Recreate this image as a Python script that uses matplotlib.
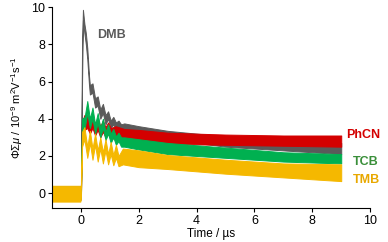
import matplotlib
matplotlib.use("Agg")
import matplotlib.pyplot as plt

plt.rcParams['font.family'] = ['Liberation Sans', 'DejaVu Sans']
plt.rcParams['mathtext.fontset'] = 'custom'
plt.rcParams['mathtext.rm'] = 'Liberation Sans'
plt.rcParams['mathtext.it'] = 'Liberation Sans:italic'

# envelope (low / high) of each noisy trace
t_dmb  = [-1.0, -0.02, 0.0, 0.04, 0.07, 0.12, 0.17, 0.22, 0.28, 0.31, 0.40, 0.49, 0.58, 0.67, 0.76, 0.85, 0.94, 1.03, 1.12, 1.21, 1.30, 1.39, 1.5, 2.0, 3.0, 5.0, 7.0, 9.0]
lo_dmb = [-0.35, -0.35, -0.2, 6.0, 9.3, 8.6, 8.0, 7.2, 5.8, 5.3, 5.4, 4.6, 4.7, 4.0, 4.3, 3.7, 4.0, 3.5, 3.7, 3.4, 3.5, 3.3, 3.3, 3.1, 2.9, 2.5, 2.3, 2.1]
hi_dmb = [0.35, 0.35, 0.3, 8.0, 9.85, 9.1, 8.6, 7.8, 6.3, 5.8, 5.9, 5.1, 5.2, 4.5, 4.8, 4.2, 4.4, 3.9, 4.1, 3.8, 3.9, 3.7, 3.75, 3.6, 3.35, 3.05, 2.85, 2.7]

t_phcn  = [-1.0, -0.02, 0.0, 0.04, 0.12, 0.22, 0.31, 0.40, 0.49, 0.58, 0.67, 0.76, 0.85, 0.94, 1.03, 1.2, 1.5, 2.0, 3.0, 5.0, 7.0, 9.0]
lo_phcn = [-0.35, -0.35, -0.2, 3.0, 3.4, 3.5, 3.2, 3.5, 3.1, 3.4, 3.0, 3.3, 3.0, 3.2, 2.95, 2.95, 2.8, 2.75, 2.65, 2.6, 2.55, 2.5]
hi_phcn = [0.35, 0.35, 0.3, 3.8, 4.2, 4.2, 3.8, 4.1, 3.7, 4.0, 3.6, 3.9, 3.55, 3.8, 3.5, 3.6, 3.45, 3.4, 3.25, 3.15, 3.1, 3.1]

t_tcb  = [-1.0, -0.02, 0.0, 0.04, 0.13, 0.22, 0.31, 0.40, 0.49, 0.58, 0.67, 0.76, 0.85, 0.94, 1.03, 1.12, 1.21, 1.30, 1.39, 1.5, 2.0, 3.0, 5.0, 7.0, 9.0]
lo_tcb = [-0.35, -0.35, -0.2, 3.3, 3.5, 4.3, 3.5, 4.0, 3.2, 3.8, 3.0, 3.5, 2.85, 3.2, 2.7, 3.0, 2.6, 2.8, 2.5, 2.5, 2.35, 2.1, 1.9, 1.7, 1.6]
hi_tcb = [0.35, 0.35, 0.3, 4.0, 4.1, 4.95, 4.0, 4.6, 3.7, 4.3, 3.5, 4.0, 3.3, 3.7, 3.2, 3.45, 3.05, 3.25, 3.0, 3.0, 2.9, 2.7, 2.45, 2.2, 2.1]

t_tmb  = [-1.0, -0.02, 0.0, 0.04, 0.12, 0.22, 0.31, 0.40, 0.49, 0.58, 0.67, 0.76, 0.85, 0.94, 1.03, 1.12, 1.21, 1.30, 1.45, 2.0, 3.0, 5.0, 7.0, 9.0]
lo_tmb = [-0.45, -0.45, -0.3, 2.5, 2.9, 1.9, 2.7, 1.8, 2.6, 1.7, 2.4, 1.6, 2.3, 1.55, 2.1, 1.5, 1.9, 1.45, 1.55, 1.4, 1.3, 1.05, 0.85, 0.65]
hi_tmb = [0.4, 0.4, 0.3, 3.3, 3.55, 2.5, 3.35, 2.4, 3.2, 2.3, 3.0, 2.2, 2.9, 2.1, 2.75, 2.05, 2.6, 2.0, 2.4, 2.3, 2.05, 1.8, 1.6, 1.55]

names = ['DMB', 'PhCN', 'TCB', 'TMB']
trace_colors = ['#5a5a5a', '#d40000', '#00b050', '#f5b800']
label_colors = ['#5a5a5a', '#d40000', '#3a8f3a', '#e8a800']
label_pos = [(1.07, 8.5), (9.76, 3.1), (9.86, 1.67), (9.86, 0.7)]

x_ticks = [0, 2, 4, 6, 8, 10]
y_ticks = [0, 2, 4, 6, 8, 10]

fig = plt.figure(figsize=(3.88, 2.42), dpi=100)
ax = fig.add_axes([0.134, 0.140, 0.820, 0.831])

traces = [(t_dmb, lo_dmb, hi_dmb), (t_phcn, lo_phcn, hi_phcn),
          (t_tcb, lo_tcb, hi_tcb), (t_tmb, lo_tmb, hi_tmb)]
for (t, lo, hi), c in zip(traces, trace_colors):
    ax.fill_between(t, lo, hi, color=c, linewidth=0.7, edgecolor=c)

for n, c, (x, y) in zip(names, label_colors, label_pos):
    ax.text(x, y, n, color=c, fontsize=9, fontweight='bold', ha='center', va='center', clip_on=False)

ax.set_xlim(-1, 10)
ax.set_ylim(-0.8, 10)
ax.set_xticks(x_ticks)
ax.set_yticks(y_ticks)
ax.spines['top'].set_visible(False)
ax.spines['right'].set_visible(False)
ax.tick_params(direction='out', length=3, width=0.8, labelsize=9, pad=2)
ax.set_xlabel('Time / µs', fontsize=8.5, labelpad=1)
ax.set_ylabel(r'$\mathit{\Phi\Sigma\mu}$ / 10$^{-9}$ m$^{2}$V$^{-1}$s$^{-1}$', fontsize=8, labelpad=4)

fig.savefig('out.png', dpi=100)
